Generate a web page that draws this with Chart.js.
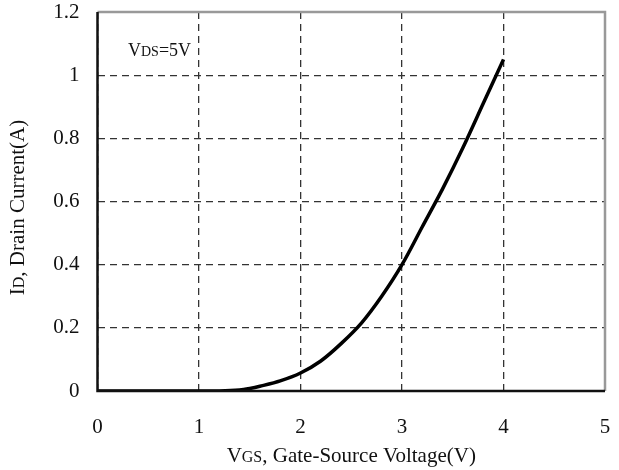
<!DOCTYPE html>
<html>
<head>
<meta charset="utf-8">
<script src="https://cdn.jsdelivr.net/npm/chart.js@4"></script>
<style>
  body { margin: 0; background: #fff; }
  #wrap { width: 619px; height: 470px; }
</style>
</head>
<body>
<div id="wrap"><canvas id="chart" width="619" height="470"></canvas></div>
<script>
// Data
const vgs = [0, 0.5, 1.0, 1.2, 1.4, 1.5, 1.6, 1.8, 2.0, 2.2, 2.4, 2.6, 2.8, 3.0, 3.2, 3.4, 3.6, 3.8, 4.0];
const idCurrent = [0, 0, 0, 0, 0.003, 0.008, 0.015, 0.032, 0.057, 0.095, 0.15, 0.215, 0.3, 0.4, 0.52, 0.64, 0.77, 0.91, 1.05];
const xTicks = [0, 1, 2, 3, 4, 5];
const yTicks = [0, 0.2, 0.4, 0.6, 0.8, 1, 1.2];

const serif = '"Liberation Serif", "DejaVu Serif", serif';

// draws text parts with subscripts, e.g. [['V',20],['GS',15]]
const drawParts = (ctx, parts, x, y, align) => {
  let total = 0;
  parts.forEach(p => { ctx.font = p[1] + 'px ' + serif; total += ctx.measureText(p[0]).width; });
  let cx = align === 'center' ? x - total / 2 : x;
  parts.forEach(p => {
    ctx.font = p[1] + 'px ' + serif;
    ctx.fillText(p[0], cx, y);
    cx += ctx.measureText(p[0]).width;
  });
};

const labels = {
  id: 'labels',
  afterDraw: (chart) => {
    const ctx = chart.ctx;
    const area = chart.chartArea;
    ctx.save();
    ctx.fillStyle = '#111';
    ctx.textAlign = 'left';
    ctx.textBaseline = 'alphabetic';
    // annotation
    drawParts(ctx, [['V', 18], ['DS', 14], ['=5V', 18]], 128, 56, 'left');
    // x title
    drawParts(ctx, [['V', 21], ['GS', 16], [', Gate-Source Voltage(V)', 21]], (area.left + area.right) / 2, 462, 'center');
    // y title
    ctx.translate(24, (area.top + area.bottom) / 2 + 6);
    ctx.rotate(-Math.PI / 2);
    drawParts(ctx, [['I', 21], ['D', 16], [', Drain Current(A)', 21]], 0, 0, 'center');
    ctx.restore();

    // frame: left/bottom black, top/right gray
    ctx.save();
    ctx.lineWidth = 2.5;
    ctx.strokeStyle = '#999';
    ctx.beginPath();
    ctx.moveTo(area.left, area.top);
    ctx.lineTo(area.right, area.top);
    ctx.lineTo(area.right, area.bottom);
    ctx.stroke();
    ctx.strokeStyle = '#111';
    ctx.beginPath();
    ctx.moveTo(area.left, area.top);
    ctx.lineTo(area.left, area.bottom);
    ctx.lineTo(area.right, area.bottom);
    ctx.stroke();
    ctx.restore();
  }
};

new Chart(document.getElementById('chart'), {
  type: 'scatter',
  data: {
    datasets: [{
      data: vgs.map((v, i) => ({ x: v, y: idCurrent[i] })),
      showLine: true,
      borderColor: '#000',
      borderWidth: 3.5,
      pointRadius: 0,
      tension: 0.3
    }]
  },
  options: {
    responsive: false,
    animation: false,
    layout: { padding: { top: 12, right: 14, left: 0, bottom: 0 } },
    plugins: { legend: { display: false }, tooltip: { enabled: false } },
    scales: {
      x: {
        type: 'linear',
        min: 0,
        max: 5,
        afterFit: (s) => { s.height = 79; s.paddingLeft = 0; s.paddingRight = 0; },
        afterBuildTicks: (s) => { s.ticks = xTicks.map(v => ({ value: v })); },
        grid: { color: '#333', lineWidth: 1.3, drawTicks: false },
        border: { display: false, dash: [7, 5] },
        ticks: { color: '#111', padding: 24, font: { family: serif, size: 21 } }
      },
      y: {
        min: 0,
        max: 1.2,
        afterFit: (s) => { s.width = 97.5; s.paddingTop = 0; s.paddingBottom = 0; },
        afterBuildTicks: (s) => { s.ticks = yTicks.map(v => ({ value: v })); },
        grid: { color: '#333', lineWidth: 1.3, drawTicks: false },
        border: { display: false, dash: [7, 5] },
        ticks: { color: '#111', padding: 18, font: { family: serif, size: 21 }, callback: (v) => String(v) }
      }
    }
  },
  plugins: [labels]
});
</script>
</body>
</html>
